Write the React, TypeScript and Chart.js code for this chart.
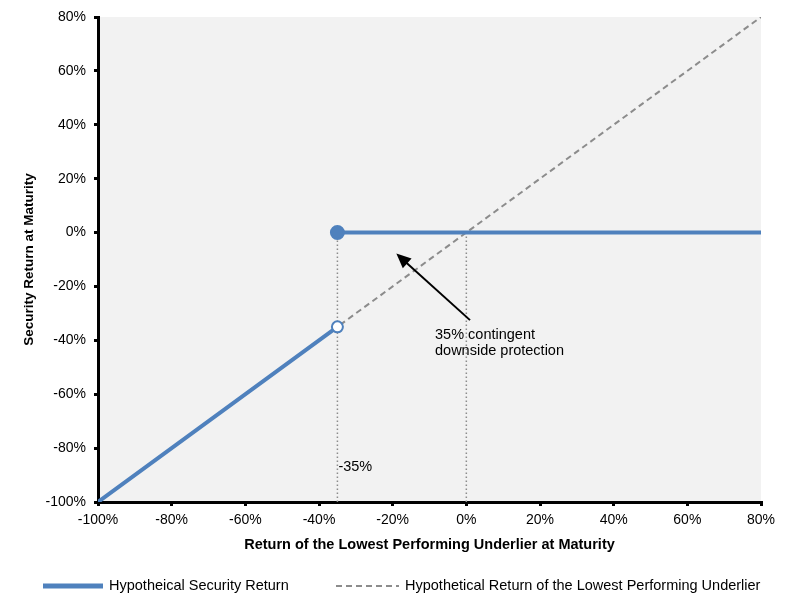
import { Chart, registerables, Plugin } from "chart.js";
import { useEffect, useRef } from "react";

Chart.register(...registerables);

const FONT = "'Liberation Sans Narrow', 'Arial Narrow', 'Liberation Sans', Arial, sans-serif";
const BLUE = "#4f81bd";
const GRAY = "#8c8c8c";

// x = return of the lowest performing underlier, y = security return (in %)
const securityX = [-100, -35, -35, -35, 80];
const securityY: (number | null)[] = [-100, -35, null, 0, 0];
const underlierX = [-100, 80];
const underlierY = [-100, 80];
const guideX = [-35, 0];
const guideTop = 0;
const guideBottom = -100;

const barrierLabel = "-35%";
const barrierLabelY = -87;
const noteLines = ["35% contingent", "downside protection"];
const noteAt = { x: -8.5, y: -38 };
const arrowFrom = { x: 1, y: -32.5 };
const arrowTo = { x: -19, y: -7.8 };

const legendLabels = ["Hypotheical Security Return", "Hypothetical Return of the Lowest Performing Underlier"];
const xTitle = "Return of the Lowest Performing Underlier at Maturity";
const yTitle = "Security Return at Maturity";

const areaBackground: Plugin = {
  id: "areaBackground",
  beforeDraw(chart) {
    const { ctx, chartArea } = chart;
    ctx.save();
    ctx.fillStyle = "#f2f2f2";
    ctx.fillRect(chartArea.left, chartArea.top, chartArea.right - chartArea.left, chartArea.bottom - chartArea.top);
    ctx.restore();
  },
};

const annotations: Plugin = {
  id: "annotations",
  afterDatasetsDraw(chart) {
    const { ctx, scales } = chart;
    const x = scales.x, y = scales.y;
    ctx.save();
    ctx.fillStyle = "#000";
    ctx.font = `14.5px ${FONT}`;
    ctx.textBaseline = "middle";
    ctx.textAlign = "left";
    ctx.fillText(barrierLabel, x.getPixelForValue(guideX[0]) + 1, y.getPixelForValue(barrierLabelY));
    const nx = x.getPixelForValue(noteAt.x);
    const ny = y.getPixelForValue(noteAt.y);
    noteLines.forEach((t, i) => ctx.fillText(t, nx, ny + i * 16));

    // arrow
    const x1 = x.getPixelForValue(arrowFrom.x), y1 = y.getPixelForValue(arrowFrom.y);
    const x2 = x.getPixelForValue(arrowTo.x), y2 = y.getPixelForValue(arrowTo.y);
    const ang = Math.atan2(y2 - y1, x2 - x1);
    const head = 16;
    ctx.strokeStyle = "#000";
    ctx.lineWidth = 2;
    ctx.beginPath();
    ctx.moveTo(x1, y1);
    ctx.lineTo(x2 - Math.cos(ang) * head * 0.8, y2 - Math.sin(ang) * head * 0.8);
    ctx.stroke();
    ctx.beginPath();
    ctx.moveTo(x2, y2);
    ctx.lineTo(x2 - head * Math.cos(ang - 0.42), y2 - head * Math.sin(ang - 0.42));
    ctx.lineTo(x2 - head * Math.cos(ang + 0.42), y2 - head * Math.sin(ang + 0.42));
    ctx.closePath();
    ctx.fill();
    ctx.restore();
  },
  afterDraw(chart) {
    // legend
    const { ctx, height } = chart;
    const ds = chart.data.datasets as any[];
    const ly = height - 23;
    const items = [
      { x: 43, w: 60, ds: ds[0] },
      { x: 336, w: 63, ds: ds[1] },
    ];
    ctx.save();
    ctx.font = `14.5px ${FONT}`;
    ctx.fillStyle = "#000";
    ctx.textBaseline = "middle";
    items.forEach((it, i) => {
      ctx.strokeStyle = it.ds.borderColor;
      ctx.lineWidth = it.ds.borderWidth + (i === 0 ? 1 : 0);
      ctx.setLineDash(it.ds.borderDash || []);
      ctx.beginPath();
      ctx.moveTo(it.x, ly);
      ctx.lineTo(it.x + it.w, ly);
      ctx.stroke();
      ctx.fillText(legendLabels[i], it.x + it.w + 6, ly);
    });
    ctx.restore();
  },
};

const App: React.FC = () => {
  const chartRef = useRef<HTMLCanvasElement | null>(null);

  useEffect(() => {
    document.body.style.margin = "0";
    if (!chartRef.current) return;

    const guides = guideX.map((gx) => ({
      data: [{ x: gx, y: guideTop }, { x: gx, y: guideBottom }],
      borderColor: GRAY,
      borderWidth: 1.5,
      borderDash: [1.5, 2.5],
      pointRadius: 0,
    }));

    const axisCommon = {
      type: "linear" as const,
      min: -100,
      max: 80,
      grid: { display: true, drawOnChartArea: false, drawTicks: true, tickLength: 4, color: "#000", lineWidth: 3 },
      border: { display: true, color: "#000", width: 3 },
    };

    const myChart = new Chart(chartRef.current, {
      type: "line",
      data: {
        datasets: [
          {
            data: securityX.map((v, i) => ({ x: v, y: securityY[i] })) as any,
            borderColor: BLUE,
            borderWidth: 4,
            pointRadius: [0, 5.5, 0, 6.5, 0],
            pointBackgroundColor: [BLUE, "#fff", BLUE, BLUE, BLUE],
            pointBorderColor: BLUE,
            pointBorderWidth: 2,
            spanGaps: false,
          },
          {
            data: underlierX.map((v, i) => ({ x: v, y: underlierY[i] })),
            borderColor: GRAY,
            borderWidth: 2,
            borderDash: [6, 4],
            pointRadius: 0,
          },
          ...guides,
        ],
      },
      options: {
        animation: false,
        responsive: true,
        maintainAspectRatio: false,
        layout: { padding: { top: 17, right: 27, bottom: 47, left: 0 } },
        plugins: { legend: { display: false }, tooltip: { enabled: false } },
        scales: {
          x: {
            ...axisCommon,
            ticks: { stepSize: 20, padding: 6, color: "#000", font: { family: FONT, size: 14 }, callback: (v) => `${v}%` },
            title: { display: true, text: xTitle, color: "#000", font: { family: FONT, size: 14.5, weight: "bold" }, padding: { top: 0, bottom: 8 } },
            afterFit: (s) => { s.height = 60; },
          },
          y: {
            ...axisCommon,
            ticks: { stepSize: 20, padding: 8, color: "#000", font: { family: FONT, size: 14 }, callback: (v) => `${v}%` },
            title: { display: true, text: yTitle, color: "#000", font: { family: FONT, size: 13.5, weight: "bold" }, padding: { top: 21, bottom: 0 } },
            afterFit: (s) => { s.width = 98; },
          },
        },
      },
      plugins: [areaBackground, annotations],
    });
    return () => myChart.destroy();
  }, []);

  return (
    <div style={{ width: "788px", height: "609px", position: "relative", background: "#fff" }}>
      <canvas ref={chartRef} />
    </div>
  );
};

export default App;
